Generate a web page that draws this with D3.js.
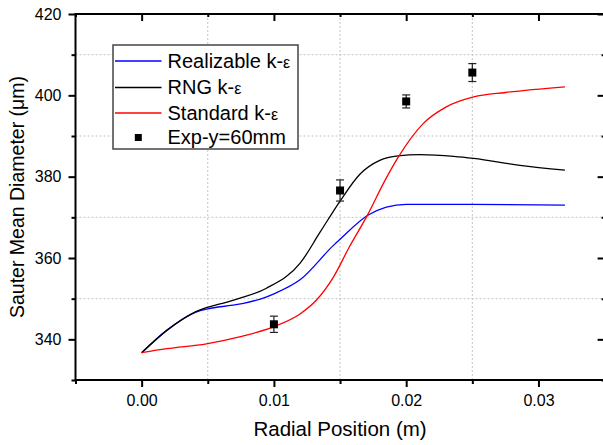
<!DOCTYPE html>
<html>
<head>
<meta charset="utf-8">
<script src="https://cdn.jsdelivr.net/npm/d3@7"></script>
<style>
  html, body { margin: 0; padding: 0; background: #fff; }
  svg { display: block; font-family: "Liberation Sans", Arial, sans-serif; }
</style>
</head>
<body>
<svg id="chart" width="603" height="445"></svg>
<script>
// ---- data ----
const realizableX = [0, 0.0019, 0.0041, 0.005, 0.0069, 0.0076, 0.0094, 0.0100, 0.0120, 0.0145, 0.0150, 0.0171, 0.0185, 0.0200, 0.0250, 0.0320];
const realizableY = [336.7, 342.2, 346.7, 347.5, 348.4, 348.8, 350.4, 351.2, 354.7, 363.1, 364.6, 370.5, 372.5, 373.2, 373.2, 373.0];

const rngX = [0, 0.0019, 0.0041, 0.0069, 0.0094, 0.0120, 0.0135, 0.0150, 0.0165, 0.0180, 0.0194, 0.0210, 0.0236, 0.0251, 0.0286, 0.0320];
const rngY = [336.7, 342.2, 346.8, 349.6, 352.5, 358.8, 366.4, 374.0, 380.6, 384.0, 385.1, 385.4, 385.0, 384.5, 382.8, 381.6];

const standardX = [0, 0.0019, 0.0049, 0.0074, 0.0099, 0.0120, 0.0132, 0.0145, 0.0157, 0.0170, 0.0184, 0.0194, 0.0213, 0.0230, 0.0251, 0.0275, 0.0320];
const standardY = [336.7, 337.7, 338.9, 340.6, 343.0, 346.3, 349.6, 355.3, 362.7, 370.1, 379.1, 384.8, 393.1, 397.1, 399.6, 400.7, 402.1];

const expX = [0.010, 0.015, 0.020, 0.025];
const expY = [343.7, 376.6, 398.5, 405.6];
const expErr = [2.0, 2.6, 1.6, 2.2];

const xMajorTicks = [0, 0.01, 0.02, 0.03];
const xMinorTicks = [-0.005, 0.005, 0.015, 0.025, 0.035];
const yMajorTicks = [340, 360, 380, 400, 420];
const yMinorTicks = [330, 350, 370, 390, 410];

const seriesNames = ["Realizable k-", "RNG k-", "Standard k-", "Exp-y=60mm"];
const seriesSuffix = ["\u03b5", "\u03b5", "\u03b5", ""];
const seriesColors = ["#0000ff", "#000000", "#ff0000", "#000000"];
const xTitle = "Radial Position (m)";
const yTitle = "Sauter Mean Diameter (\u03bcm)";

// ---- layout ----
const svg = d3.select("#chart");
const L = 75.5, R = 604.6, T = 14, B = 380;
const x = d3.scaleLinear().domain([-0.005, 0.035]).range([L, R]);
const y = d3.scaleLinear().domain([330, 420]).range([B, T]);

// grid (dotted at minor ticks)
const grid = svg.append("g").attr("stroke", "#c4c4c4").attr("stroke-width", 1).attr("stroke-dasharray", "2,2");
xMinorTicks.filter(v => v > -0.005 && v < 0.035).forEach(v => {
  grid.append("line").attr("x1", x(v)).attr("x2", x(v)).attr("y1", T).attr("y2", B);
});
yMinorTicks.filter(v => v > 330 && v < 420).forEach(v => {
  grid.append("line").attr("x1", L).attr("x2", R).attr("y1", y(v)).attr("y2", y(v));
});

// curves
const line = d3.line().x(d => x(d[0])).y(d => y(d[1])).curve(d3.curveMonotoneX);
const curves = [
  [realizableX, realizableY, seriesColors[0]],
  [rngX, rngY, seriesColors[1]],
  [standardX, standardY, seriesColors[2]]
];
curves.forEach(([xs, ys, c]) => {
  svg.append("path")
    .datum(xs.map((v, i) => [v, ys[i]]))
    .attr("fill", "none").attr("stroke", c).attr("stroke-width", 1.3)
    .attr("d", line);
});

// experimental points with error bars
const exp = svg.append("g");
expX.forEach((v, i) => {
  const cx = x(v), cy = y(expY[i]);
  const y1 = y(expY[i] + expErr[i]), y2 = y(expY[i] - expErr[i]);
  exp.append("line").attr("x1", cx).attr("x2", cx).attr("y1", y1).attr("y2", y2).attr("stroke", "#222").attr("stroke-width", 1.2);
  [y1, y2].forEach(yy => exp.append("line").attr("x1", cx - 4).attr("x2", cx + 4).attr("y1", yy).attr("y2", yy).attr("stroke", "#222").attr("stroke-width", 1.2));
  exp.append("rect").attr("x", cx - 4).attr("y", cy - 4).attr("width", 8).attr("height", 8).attr("fill", "#000");
});

// axes
function styleAxis(g) {
  g.select(".domain").remove();
  g.selectAll(".tick line").attr("stroke", "#000").attr("stroke-width", 2);
  g.selectAll(".tick text").attr("font-size", 16).attr("fill", "#000").attr("font-family", "Liberation Sans, Arial, sans-serif");
}
const fmt = d3.format(".2f");
svg.append("g").attr("transform", `translate(0,${B})`)
  .call(d3.axisBottom(x).tickValues(xMajorTicks).tickSize(7).tickPadding(8).tickFormat(fmt)).call(styleAxis);
svg.append("g").attr("transform", `translate(0,${B})`)
  .call(d3.axisBottom(x).tickValues(xMinorTicks).tickSize(4).tickFormat("")).call(styleAxis);
svg.append("g").attr("transform", `translate(0,${T})`)
  .call(d3.axisBottom(x).tickValues(xMajorTicks).tickSize(7).tickFormat("")).call(styleAxis);
svg.append("g").attr("transform", `translate(0,${T})`)
  .call(d3.axisBottom(x).tickValues(xMinorTicks).tickSize(3).tickFormat("")).call(styleAxis);
svg.append("g").attr("transform", `translate(${L},0)`)
  .call(d3.axisLeft(y).tickValues(yMajorTicks).tickSize(7).tickPadding(7).tickFormat(d3.format("d"))).call(styleAxis);
svg.append("g").attr("transform", `translate(${L},0)`)
  .call(d3.axisLeft(y).tickValues(yMinorTicks).tickSize(4).tickFormat("")).call(styleAxis);
svg.append("g").attr("transform", `translate(${R},0)`)
  .call(d3.axisLeft(y).tickValues(yMajorTicks).tickSize(7).tickFormat("")).call(styleAxis);
svg.append("g").attr("transform", `translate(${R},0)`)
  .call(d3.axisLeft(y).tickValues(yMinorTicks).tickSize(3).tickFormat("")).call(styleAxis);

// frame
svg.append("rect").attr("x", L).attr("y", T).attr("width", R - L).attr("height", B - T)
  .attr("fill", "none").attr("stroke", "#000").attr("stroke-width", 2);

// titles
svg.append("text").attr("x", (L + R) / 2).attr("y", 436).attr("text-anchor", "middle")
  .attr("font-size", 20.5).attr("fill", "#000").text(xTitle);
svg.append("text").attr("transform", `translate(23.5,${(T + B) / 2}) rotate(-90)`).attr("text-anchor", "middle")
  .attr("font-size", 19.5).attr("fill", "#000").text(yTitle);

// legend
const lg = svg.append("g");
lg.append("rect").attr("x", 113).attr("y", 45).attr("width", 185).attr("height", 104)
  .attr("fill", "#fff").attr("stroke", "#444").attr("stroke-width", 1.5);
const rowsY = [61, 87.5, 113, 137.5];
seriesNames.forEach((name, i) => {
  const ry = rowsY[i];
  if (i < 3) {
    lg.append("line").attr("x1", 115).attr("x2", 161.5).attr("y1", ry).attr("y2", ry)
      .attr("stroke", seriesColors[i]).attr("stroke-width", 1.3);
  } else {
    lg.append("rect").attr("x", 138.3 - 3.5).attr("y", ry - 3.5).attr("width", 7).attr("height", 7).attr("fill", "#000");
  }
  const t = lg.append("text").attr("x", 167.5).attr("y", ry + 6.5).attr("font-size", 20).attr("fill", "#000");
  t.append("tspan").text(name);
  if (seriesSuffix[i]) t.append("tspan").attr("font-size", 16).text(seriesSuffix[i]);
});
</script>
</body>
</html>
